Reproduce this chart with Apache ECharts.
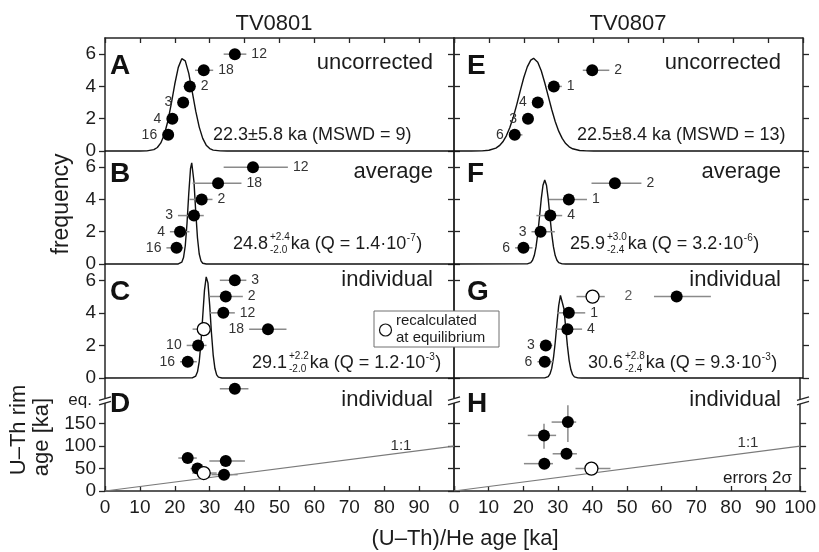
<!DOCTYPE html>
<html><head><meta charset="utf-8">
<script src="https://cdn.jsdelivr.net/npm/echarts@6/dist/echarts.min.js"></script>
<style>html,body{margin:0;padding:0;background:#fff}#c{width:819px;height:552px}</style>
</head><body><div id="c"></div>
<script>
// ================= DATA =================
const columnTitles = ['TV0801', 'TV0807'];
const panelLetters = ['A', 'B', 'C', 'D', 'E', 'F', 'G', 'H'];
const panelModes = ['uncorrected', 'average', 'individual', 'individual', 'uncorrected', 'average', 'individual', 'individual'];
const xTicks = [0, 10, 20, 30, 40, 50, 60, 70, 80, 90, 100];
const xTicksLeft = [0, 10, 20, 30, 40, 50, 60, 70, 80, 90];
const freqTicks = [0, 2, 4, 6];
const rimTicks = [0, 50, 100, 150];
const oneToOneX = [0, 100];
const oneToOneY = [0, 100];

// Panel A (TV0801 uncorrected)
const A_lab = ['12', '18', '2', '3', '4', '16'];
const A_x = [37.2, 28.3, 24.3, 22.4, 19.3, 18.1];
const A_y = [6, 5, 4, 3, 2, 1];
const A_lo = [34.0, 25.8, 22.5, 20.8, 17.8, 16.5];
const A_hi = [40.5, 31.0, 26.0, 24.0, 20.8, 19.5];
const A_curveX = [0, 10, 12, 14, 15, 16, 17, 18, 19, 20, 21, 22, 22.3, 23, 24, 25, 26, 27, 28, 29, 30, 31, 33, 35, 100];
const A_curveY = [0, 0, 0.008, 0.083, 0.216, 0.50, 1.02, 1.84, 2.94, 4.15, 5.18, 5.72, 5.75, 5.58, 4.81, 3.67, 2.47, 1.48, 0.78, 0.36, 0.15, 0.055, 0.005, 0, 0];

// Panel B (TV0801 average)
const B_lab = ['12', '18', '2', '3', '4', '16'];
const B_x = [42.4, 32.4, 27.7, 25.5, 21.5, 20.5];
const B_y = [6, 5, 4, 3, 2, 1];
const B_lo = [34.0, 25.1, 24.2, 20.9, 18.6, 17.6];
const B_hi = [52.4, 39.1, 30.8, 28.3, 24.2, 22.4];
const B_curveX = [0, 21, 22, 22.5, 23, 23.5, 24, 24.5, 24.85, 25, 25.5, 26, 26.5, 27, 27.5, 28, 29, 100];
const B_curveY = [0, 0.004, 0.11, 0.40, 1.13, 2.52, 4.37, 5.90, 6.27, 6.20, 5.08, 3.24, 1.61, 0.62, 0.19, 0.044, 0, 0];

// Panel C (TV0801 individual)
const C_lab = ['3', '2', '12', '18', '10', '16'];
const C_x = [37.2, 34.6, 33.9, 46.7, 26.7, 23.7];
const C_y = [6, 5, 4, 3, 2, 1];
const C_lo = [32.9, 30.0, 29.9, 41.3, 23.4, 21.5];
const C_hi = [40.5, 39.5, 37.2, 52.0, 29.1, 26.3];
const C_openX = [28.3];
const C_openY = [3];
const C_openLo = [25.1];
const C_openHi = [30.0];
const C_curveX = [0, 25, 26, 26.5, 27, 27.5, 28, 28.5, 29, 29.1, 29.5, 30, 30.5, 31, 31.5, 32, 32.5, 33.5, 100];
const C_curveY = [0, 0.006, 0.12, 0.38, 1.01, 2.17, 3.78, 5.38, 6.21, 6.24, 5.84, 4.46, 2.78, 1.41, 0.58, 0.19, 0.05, 0, 0];

// Panel D (TV0801 U-Th rim age vs (U-Th)/He age)
const D_x = [37.2, 23.7, 26.5, 34.6, 34.1];
const D_y = [228, 73.5, 50, 67, 36.5];
const D_xlo = [32.9, 21.0, 24.5, 29.9, 30.5];
const D_xhi = [41.1, 26.3, 29.0, 40.1, 38.0];
const D_ylo = [228, 66, 45, 55, 30];
const D_yhi = [228, 80, 55, 80, 43];
const D_openX = [28.3];
const D_openY = [40];
const D_openLo = [25.0];
const D_openHi = [32.0];

// Panel E (TV0807 uncorrected)
const E_lab = ['2', '1', '4', '3', '6'];
const E_x = [39.6, 28.6, 24.0, 21.2, 17.4];
const E_y = [5, 4, 3, 2, 1];
const E_lo = [36.9, 27.0, 22.8, 20.0, 16.2];
const E_hi = [44.5, 30.9, 25.2, 22.4, 19.6];
const E_curveX = [0, 5, 8, 10, 12, 13, 14, 15, 16, 17, 18, 19, 20, 21, 22, 22.8, 24, 25, 26, 27, 28, 29, 30, 31, 32, 33, 34, 36, 38, 40, 100];
const E_curveY = [0, 0, 0.008, 0.044, 0.18, 0.33, 0.57, 0.94, 1.45, 2.11, 2.89, 3.74, 4.55, 5.21, 5.63, 5.74, 5.50, 4.97, 4.23, 3.40, 2.57, 1.83, 1.23, 0.78, 0.46, 0.26, 0.138, 0.032, 0.006, 0, 0];

// Panel F (TV0807 average)
const F_lab = ['2', '1', '4', '3', '6'];
const F_x = [46.1, 32.9, 27.6, 24.8, 19.9];
const F_y = [5, 4, 3, 2, 1];
const F_lo = [39.4, 27.2, 23.6, 22.2, 17.5];
const F_hi = [53.7, 38.1, 31.0, 28.9, 22.5];
const F_curveX = [0, 21, 22, 22.5, 23, 23.5, 24, 24.5, 25, 25.5, 26, 26.5, 27, 27.5, 28, 28.5, 29, 29.5, 30, 31, 32, 100];
const F_curveY = [0, 0.009, 0.088, 0.23, 0.52, 1.06, 1.87, 2.93, 4.03, 4.88, 5.2, 4.88, 4.03, 2.93, 1.87, 1.06, 0.52, 0.23, 0.088, 0.009, 0, 0];

// Panel G (TV0807 individual)
const G_lab = ['', '1', '4', '3', '6'];
const G_x = [63.8, 32.9, 32.5, 26.3, 26.0];
const G_y = [5, 4, 3, 2, 1];
const G_lo = [57.3, 29.5, 29.0, 24.7, 23.9];
const G_hi = [73.6, 37.6, 36.7, 28.2, 28.4];
const G_openX = [39.7];
const G_openY = [5];
const G_openLo = [35.1];
const G_openHi = [43.2];
const G_noteX = [50.0];
const G_noteY = [5];
const G_noteText = ['2'];
const G_curveX = [0, 26, 27, 27.5, 28, 28.5, 29, 29.5, 30, 30.5, 30.7, 31, 31.5, 32, 32.5, 33, 33.5, 34, 34.5, 35.5, 36.5, 100];
const G_curveY = [0, 0.007, 0.089, 0.25, 0.59, 1.23, 2.18, 3.35, 4.44, 5.07, 5.13, 4.99, 4.25, 3.11, 1.97, 1.07, 0.50, 0.205, 0.072, 0.006, 0, 0];

// Panel H (TV0807 U-Th rim age)
const H_x = [32.9, 26.0, 32.5, 26.1];
const H_y = [153.7, 124, 83, 61];
const H_xlo = [28.2, 21.3, 28.5, 20.2];
const H_xhi = [35.3, 29.5, 35.5, 28.6];
const H_ylo = [109, 94, 74, 50];
const H_yhi = [191, 150, 92, 74];
const H_openX = [39.7];
const H_openY = [50];
const H_openLo = [35.1];
const H_openHi = [45.2];

// Statistic annotations
const statA = ['22.3±5.8 ka (MSWD = 9)'];
const statB = ['24.8', '+2.4', '-2.0', 'ka (Q = 1.4·10', '-7', ')'];
const statC = ['29.1', '+2.2', '-2.0', 'ka (Q = 1.2·10', '-3', ')'];
const statE = ['22.5±8.4 ka (MSWD = 13)'];
const statF = ['25.9', '+3.0', '-2.4', 'ka (Q = 3.2·10', '-6', ')'];
const statG = ['30.6', '+2.8', '-2.4', 'ka (Q = 9.3·10', '-3', ')'];

// ================= LAYOUT / STYLE =================
const FONT = '"Liberation Sans", Arial, sans-serif';
const INK = '#1c1c1c';
const AXC = '#262626';
const BAR = '#8a8a8a';
const colLeft = [105, 454], colW = 349;
const rowTop = [38, 151, 264, 378], rowH = [113, 113, 114, 113];
const sides = {
  A: ['r', 'r', 'r', 'l', 'l', 'l'],
  B: ['r', 'r', 'r', 'l', 'l', 'l'],
  C: ['r', 'r', 'r', 'l', 'l', 'l'],
  E: ['r', 'r', 'l', 'l', 'l'],
  F: ['r', 'r', 'r', 'l', 'l'],
  G: ['r', 'r', 'r', 'l', 'l']
};

const zip = (a, b) => a.map((v, i) => [v, b[i]]);

const chart = echarts.init(document.getElementById('c'), null, { renderer: 'canvas' });

const grid = [], xAxis = [], yAxis = [], series = [];
for (let c = 0; c < 2; c++) for (let r = 0; r < 4; r++) {
  const g = c * 4 + r;
  grid.push({ left: colLeft[c], top: rowTop[r], width: colW, height: rowH[r] });
  const axLine = { show: true, onZero: false, lineStyle: { color: AXC, width: 1.5 } };
  const tickStyle = { color: AXC, width: 1.3 };
  const xa = { gridIndex: g, type: 'value', min: 0, max: 100, interval: 10, splitLine: { show: false } };
  if (r === 0) Object.assign(xa, { position: 'top', axisLine: axLine, axisTick: { show: true, inside: true, length: 5, lineStyle: tickStyle }, axisLabel: { show: false } });
  else if (r === 3) Object.assign(xa, { position: 'bottom', axisLine: axLine, axisTick: { show: true, inside: true, length: 5, lineStyle: tickStyle },
    axisLabel: { show: true, customValues: c === 0 ? xTicksLeft : xTicks, fontSize: 19, color: INK, margin: 7, fontFamily: FONT } });
  else Object.assign(xa, { axisLine: { show: false }, axisTick: { show: false }, axisLabel: { show: false } });
  xAxis.push(xa);
  const isD = r === 3;
  const ticks = isD ? rimTicks : freqTicks;
  ['left', 'right'].forEach(pos => {
    yAxis.push({ gridIndex: g, type: 'value', position: pos, min: 0, max: isD ? 252 : 7,
      splitLine: { show: false }, axisLine: axLine,
      axisTick: { show: true, inside: false, length: 6, customValues: ticks, lineStyle: tickStyle },
      axisLabel: { show: c === 0 && pos === 'left', customValues: ticks, fontSize: 19, color: INK, margin: 9, fontFamily: FONT } });
  });
}

function barsRenderer(labels, side, withY) {
  return function (params, api) {
    const i = params.dataIndex;
    const x = api.value(0), y = api.value(1), lo = api.value(2), hi = api.value(3);
    const c = api.coord([x, y]);
    const p1 = api.coord([lo, y]), p2 = api.coord([hi, y]);
    const ch = [{ type: 'line', shape: { x1: p1[0], y1: p1[1], x2: p2[0], y2: p2[1] }, style: { stroke: BAR, lineWidth: 1.5 } }];
    if (withY) {
      const q1 = api.coord([x, api.value(4)]), q2 = api.coord([x, api.value(5)]);
      ch.push({ type: 'line', shape: { x1: q1[0], y1: q1[1], x2: q2[0], y2: q2[1] }, style: { stroke: BAR, lineWidth: 1.5 } });
    }
    if (labels && labels[i]) {
      const right = side[i] === 'r';
      const tx = right ? Math.max(p2[0], c[0] + 6) + 5 : Math.min(p1[0], c[0] - 6) - 5;
      ch.push({ type: 'text', x: tx, y: c[1], style: { text: labels[i], fill: '#333', font: '14px ' + FONT, align: right ? 'left' : 'right', verticalAlign: 'middle' } });
    }
    return { type: 'group', children: ch };
  };
}

function addPanel(g, o) {
  const ax = { xAxisIndex: g, yAxisIndex: g * 2 };
  if (o.cx) series.push(Object.assign({ type: 'line', data: zip(o.cx, o.cy), symbol: 'none', clip: false, z: 2, silent: true,
    lineStyle: { color: '#111', width: 1.4 } }, ax));
  if (o.one) series.push(Object.assign({ type: 'line', data: zip(oneToOneX, oneToOneY), symbol: 'none', z: 2, silent: true,
    lineStyle: { color: '#7a7a7a', width: 1.1 } }, ax));
  const rows = o.x.map((v, i) => [v, o.y[i], o.lo[i], o.hi[i], o.ylo ? o.ylo[i] : o.y[i], o.yhi ? o.yhi[i] : o.y[i]]);
  series.push(Object.assign({ type: 'custom', data: rows, renderItem: barsRenderer(o.lab, o.side, !!o.ylo), clip: false, z: 3, silent: true }, ax));
  series.push(Object.assign({ type: 'scatter', data: zip(o.x, o.y), symbol: 'circle', symbolSize: 12, itemStyle: { color: '#000', opacity: 1 }, clip: false, z: 4, silent: true }, ax));
  if (o.ox) {
    const orow = o.ox.map((v, i) => [v, o.oy[i], o.olo[i], o.ohi[i], o.oy[i], o.oy[i]]);
    series.push(Object.assign({ type: 'custom', data: orow, renderItem: barsRenderer(null, null, false), clip: false, z: 3, silent: true }, ax));
    series.push(Object.assign({ type: 'scatter', data: zip(o.ox, o.oy), symbol: 'circle', symbolSize: 13,
      itemStyle: { color: '#fff', borderColor: '#000', borderWidth: 1.3, opacity: 1 }, clip: false, z: 5, silent: true }, ax));
  }
  if (o.nx) {
    series.push(Object.assign({ type: 'scatter', data: zip(o.nx, o.ny), symbolSize: 0, z: 5, silent: true,
      label: { show: true, position: 'inside', formatter: p => o.nt[p.dataIndex], color: '#333', fontSize: 14, fontFamily: FONT } }, ax));
  }
}

addPanel(0, { x: A_x, y: A_y, lo: A_lo, hi: A_hi, lab: A_lab, side: sides.A, cx: A_curveX, cy: A_curveY });
addPanel(1, { x: B_x, y: B_y, lo: B_lo, hi: B_hi, lab: B_lab, side: sides.B, cx: B_curveX, cy: B_curveY });
addPanel(2, { x: C_x, y: C_y, lo: C_lo, hi: C_hi, lab: C_lab, side: sides.C, cx: C_curveX, cy: C_curveY,
  ox: C_openX, oy: C_openY, olo: C_openLo, ohi: C_openHi });
addPanel(3, { x: D_x, y: D_y, lo: D_xlo, hi: D_xhi, ylo: D_ylo, yhi: D_yhi, one: true,
  ox: D_openX, oy: D_openY, olo: D_openLo, ohi: D_openHi });
addPanel(4, { x: E_x, y: E_y, lo: E_lo, hi: E_hi, lab: E_lab, side: sides.E, cx: E_curveX, cy: E_curveY });
addPanel(5, { x: F_x, y: F_y, lo: F_lo, hi: F_hi, lab: F_lab, side: sides.F, cx: F_curveX, cy: F_curveY });
addPanel(6, { x: G_x, y: G_y, lo: G_lo, hi: G_hi, lab: G_lab, side: sides.G, cx: G_curveX, cy: G_curveY,
  ox: G_openX, oy: G_openY, olo: G_openLo, ohi: G_openHi, nx: G_noteX, ny: G_noteY, nt: G_noteText });
addPanel(7, { x: H_x, y: H_y, lo: H_xlo, hi: H_xhi, ylo: H_ylo, yhi: H_yhi, one: true,
  ox: H_openX, oy: H_openY, olo: H_openLo, ohi: H_openHi });

chart.setOption({ animation: false, backgroundColor: '#fff', grid, xAxis, yAxis, series });

// ================= ANNOTATIONS =================
const mctx = document.createElement('canvas').getContext('2d');
function tw(t, size) { mctx.font = size + 'px ' + FONT; return mctx.measureText(t).width; }
function txt(x, y, t, size, opts) {
  return Object.assign({ type: 'text', x, y, z: 50, style: Object.assign({ text: t, fill: INK, font: size + 'px ' + FONT, align: 'left', verticalAlign: 'middle' }, opts || {}) });
}
const G = [];
// stats
function stat(pieces, x, y) {
  const S = 18, s = 10;
  if (pieces.length === 1) { G.push(txt(x, y, pieces[0], S)); return; }
  let cx = x;
  G.push(txt(cx, y, pieces[0], S)); cx += tw(pieces[0], S) + 2;
  G.push(txt(cx, y - 7, pieces[1], s)); G.push(txt(cx, y + 6, pieces[2], s));
  cx += Math.max(tw(pieces[1], s), tw(pieces[2], s)) + 1;
  G.push(txt(cx, y, pieces[3], S)); cx += tw(pieces[3], S) + 0.5;
  G.push(txt(cx, y - 6, pieces[4], s)); cx += tw(pieces[4], s) + 0.5;
  G.push(txt(cx, y, pieces[5], S));
}
stat(statA, 213, 135); stat(statB, 233, 244); stat(statC, 252, 363);
stat(statE, 577, 135); stat(statF, 570, 244); stat(statG, 588, 363);

// titles
G.push(txt(274, 24, columnTitles[0], 22, { align: 'center' }));
G.push(txt(628, 24, columnTitles[1], 22, { align: 'center' }));
// letters & modes
const letterY = [66, 174, 292, 404];
const modeY = [63, 172, 280, 400];
for (let c = 0; c < 2; c++) for (let r = 0; r < 4; r++) {
  const g = c * 4 + r;
  G.push(txt(c === 0 ? 110 : 467, letterY[r], panelLetters[g], 28, { font: 'bold 28px ' + FONT, fill: '#111' }));
  G.push(txt(c === 0 ? 433 : 781, modeY[r], panelModes[g], 22, { align: 'right' }));
}
// axis names
G.push(txt(465, 539, '(U–Th)/He age [ka]', 22, { align: 'center' }));
G.push(Object.assign(txt(62, 204, 'frequency', 23, { align: 'center' }), { rotation: Math.PI / 2 }));
G.push(Object.assign(txt(19, 430, 'U–Th rim', 22, { align: 'center' }), { rotation: Math.PI / 2 }));
G.push(Object.assign(txt(42, 437, 'age [ka]', 22, { align: 'center' }), { rotation: Math.PI / 2 }));
G.push(txt(92, 400, 'eq.', 17, { align: 'right' }));
// 1:1 and errors
G.push(txt(401, 446, '1:1', 15, { align: 'center', fill: '#333' }));
G.push(txt(748, 443, '1:1', 15, { align: 'center', fill: '#333' }));
G.push(txt(792, 478, 'errors 2σ', 17, { align: 'right' }));
// legend box
G.push({ type: 'rect', z: 40, shape: { x: 374, y: 311, width: 125, height: 36 }, style: { fill: '#fff', stroke: '#707070', lineWidth: 1 } });
G.push({ type: 'circle', z: 41, shape: { cx: 385.5, cy: 330, r: 6 }, style: { fill: '#fff', stroke: '#111', lineWidth: 1.2 } });
G.push(txt(396, 321, 'recalculated', 15));
G.push(txt(396, 338, 'at equilibrium', 15));
// axis breaks
const bp = chart.convertToPixel({ xAxisIndex: 3, yAxisIndex: 6 }, [0, 201]);
[colLeft[0], colLeft[1], colLeft[1] + colW].forEach(ax => {
  const y = bp[1];
  G.push({ type: 'polygon', z: 45, shape: { points: [[ax - 6, y - 0.5], [ax + 6, y - 4], [ax + 6, y + 0.5], [ax - 6, y + 4]] }, style: { fill: '#fff' } });
  G.push({ type: 'line', z: 46, shape: { x1: ax - 6, y1: y - 0.5, x2: ax + 6, y2: y - 4 }, style: { stroke: AXC, lineWidth: 1.4 } });
  G.push({ type: 'line', z: 46, shape: { x1: ax - 6, y1: y + 4, x2: ax + 6, y2: y + 0.5 }, style: { stroke: AXC, lineWidth: 1.4 } });
});
chart.setOption({ graphic: G });
</script></body></html>
